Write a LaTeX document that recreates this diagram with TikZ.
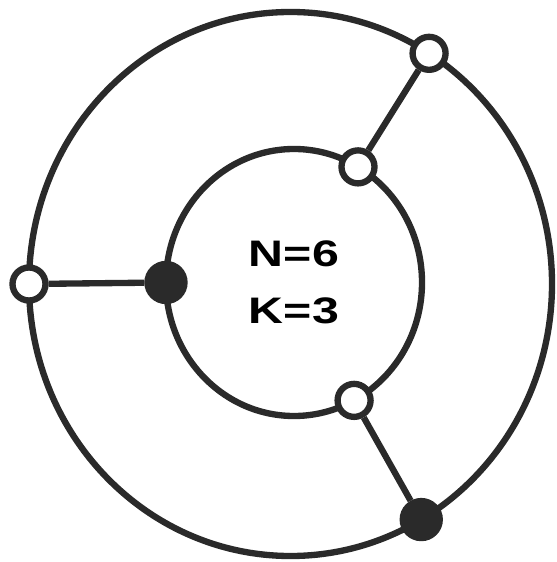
\documentclass[tikz,border=0pt]{standalone}
\usepackage{fontspec}
\usepackage{tikz}
\usetikzlibrary{positioning}
\newfontfamily\rgfont{Liberation Sans}
\definecolor{rgInk}{HTML}{2A2A2A}
\tikzset{
  rg-ring/.style={draw=rgInk, line width=3.6pt},
  rg-spoke/.style={draw=rgInk, line width=3.6pt},
  rg-open/.style={
    circle, draw=rgInk, fill=white, line width=3.6pt,
    minimum size=0.66cm, inner sep=0pt
  },
  rg-full/.style={
    circle, draw=rgInk, fill=rgInk, line width=3.6pt,
    minimum size=0.74cm, inner sep=0pt
  },
  rg-label/.style={
    align=center, xscale=1.31, transform shape,
    font=\rgfont\bfseries\fontsize{21}{32.5}\selectfont
  },
}
\begin{document}
\begin{tikzpicture}
  \useasboundingbox (-5.81,-5.56) rectangle (5.31,5.68);
  \coordinate (oc) at (0,0);
  \coordinate (ic) at (0.07,0.03);

  % rings
  \draw[rg-ring] (oc) ellipse [x radius=5.23cm, y radius=5.44cm];
  \draw[rg-ring] (ic) ellipse [x radius=2.56cm, y radius=2.67cm];

  % nodes on the outer ring
  \node[rg-open] (otr) at ([shift={(58:5.23cm and 5.44cm)}]oc) {};
  \node[rg-open] (olf) at ([shift={(180:5.23cm and 5.44cm)}]oc) {};
  \node[rg-full] (obr) at ([shift={(-60:5.23cm and 5.44cm)}]oc) {};

  % nodes on the inner ring
  \node[rg-open] (itr) at ([shift={(60:2.56cm and 2.67cm)}]ic) {};
  \node[rg-full] (ilf) at ([shift={(180:2.56cm and 2.67cm)}]ic) {};
  \node[rg-open] (ibr) at ([shift={(-62:2.56cm and 2.67cm)}]ic) {};

  \draw[rg-spoke] (itr) -- (otr);
  \draw[rg-spoke] (ilf) -- (olf);
  \draw[rg-spoke] (ibr) -- (obr);

  \node[rg-label] (lbl) at (ic) {N=6\\K=3};
\end{tikzpicture}
\end{document}
